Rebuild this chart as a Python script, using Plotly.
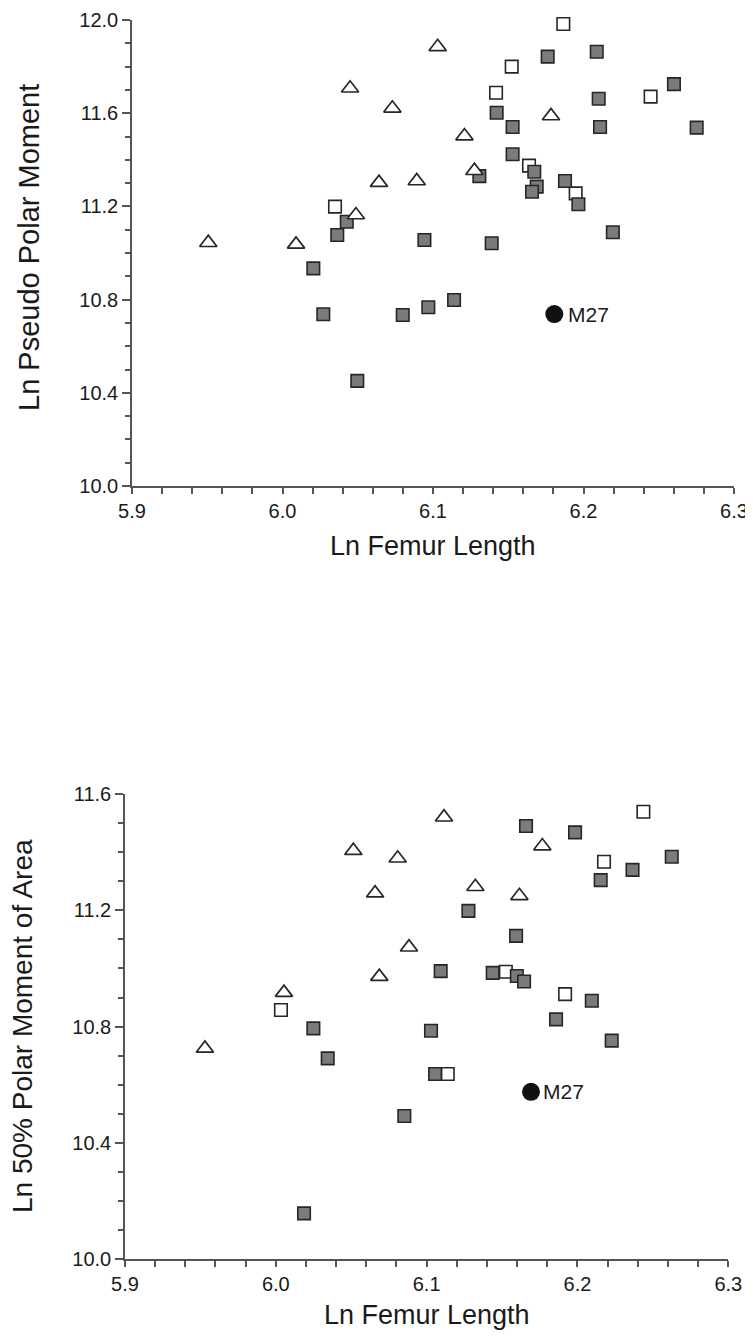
import plotly.graph_objects as go

# ---------------- Top panel: Ln Pseudo Polar Moment ----------------
top_open_x = [6.1866, 6.1523, 6.1419, 6.2446, 6.1638, 6.1948, 6.0349]
top_open_y = [11.983, 11.800, 11.688, 11.671, 11.375, 11.256, 11.199]

top_fill_x = [6.1762, 6.2088, 6.2601, 6.2101, 6.1423, 6.1529, 6.2110, 6.2752, 6.1529,
              6.1673, 6.1308, 6.1877, 6.1689, 6.1658, 6.1966, 6.0943, 6.1390, 6.2195,
              6.0427, 6.0364, 6.0205, 6.0271, 6.0497, 6.0799, 6.0969, 6.1140]
top_fill_y = [11.843, 11.864, 11.725, 11.662, 11.602, 11.541, 11.541, 11.538, 11.424,
              11.349, 11.330, 11.309, 11.285, 11.263, 11.209, 11.056, 11.042, 11.089,
              11.134, 11.077, 10.934, 10.737, 10.451, 10.734, 10.767, 10.798]

top_tri_x = [6.1031, 6.0449, 6.0730, 6.1784, 6.1209, 6.1275, 6.0641, 6.0892, 6.0488, 5.9507, 6.0090]
top_tri_y = [11.885, 11.707, 11.621, 11.588, 11.502, 11.353, 11.302, 11.309, 11.163, 11.044, 11.037]

top_m27_x = [6.1806]
top_m27_y = [10.738]

# ---------------- Bottom panel: Ln 50% Polar Moment of Area ----------------
bot_open_x = [6.0034, 6.2437, 6.2176, 6.1525, 6.1918, 6.1140]
bot_open_y = [10.857, 11.539, 11.367, 10.989, 10.912, 10.637]

bot_fill_x = [6.0249, 6.0344, 6.0187, 6.1659, 6.1984, 6.2625, 6.2365, 6.2154, 6.1277, 6.1593,
              6.1093, 6.1438, 6.1598, 6.1646, 6.2095, 6.1858, 6.1029, 6.2227, 6.1056, 6.0852]
bot_fill_y = [10.794, 10.691, 10.158, 11.490, 11.468, 11.384, 11.339, 11.304, 11.198, 11.112,
              10.991, 10.985, 10.974, 10.955, 10.889, 10.825, 10.786, 10.752, 10.637, 10.493]

bot_tri_x = [6.0514, 6.0658, 6.0686, 6.0054, 5.9530, 6.1115, 6.1767, 6.0808, 6.1323, 6.1615, 6.0883]
bot_tri_y = [11.405, 11.259, 10.972, 10.917, 10.725, 11.520, 11.421, 11.379, 11.281, 11.250, 11.073]

bot_m27_x = [6.1692]
bot_m27_y = [10.576]

x_title = "Ln Femur Length"
top_y_title = "Ln Pseudo Polar Moment"
bot_y_title = "Ln 50% Polar Moment of Area"
m27_label = "M27"

FONT = "Liberation Sans, Arial, Helvetica, sans-serif"
EDGE = "#262626"
GREY = "#7b7b7b"
AXC = "#555555"

fig = go.Figure()


def add_panel(xa, ya, ox, oy, fx, fy, tx, ty, mx, my):
    fig.add_trace(go.Scatter(x=ox, y=oy, mode="markers", xaxis=xa, yaxis=ya, cliponaxis=False,
                             marker=dict(symbol="square", size=12.5, color="white",
                                         line=dict(color=EDGE, width=1.6)),
                             showlegend=False, hoverinfo="x+y"))
    fig.add_trace(go.Scatter(x=fx, y=fy, mode="markers", xaxis=xa, yaxis=ya, cliponaxis=False,
                             marker=dict(symbol="square", size=12.5, color=GREY,
                                         line=dict(color=EDGE, width=1.6)),
                             showlegend=False, hoverinfo="x+y"))
    fig.add_trace(go.Scatter(x=tx, y=ty, mode="markers", xaxis=xa, yaxis=ya, cliponaxis=False,
                             marker=dict(symbol="triangle-up", size=15, color="white",
                                         line=dict(color=EDGE, width=1.7)),
                             showlegend=False, hoverinfo="x+y"))
    fig.add_trace(go.Scatter(x=mx, y=my, mode="markers", xaxis=xa, yaxis=ya, cliponaxis=False,
                             marker=dict(symbol="circle", size=18, color="#111111",
                                         line=dict(width=0)),
                             showlegend=False, hoverinfo="x+y"))


add_panel("x", "y", top_open_x, top_open_y, top_fill_x, top_fill_y,
          top_tri_x, top_tri_y, top_m27_x, top_m27_y)
add_panel("x2", "y2", bot_open_x, bot_open_y, bot_fill_x, bot_fill_y,
          bot_tri_x, bot_tri_y, bot_m27_x, bot_m27_y)

# The page body has an 8px margin, so the figure is drawn at (8, 8) on the page.
OFF = 8
W, H = 753 - OFF, 1337 - OFF


def px(v):
    return (v - OFF) / W


def py(v):
    return 1 - (v - OFF) / H


xcommon = dict(range=[5.9, 6.3], dtick=0.1, tick0=5.9, tickformat=".1f",
               ticks="outside", ticklen=6, tickwidth=1.5, tickcolor=AXC,
               showline=True, linecolor=AXC, linewidth=1.5,
               showgrid=False, zeroline=False, automargin=False,
               tickfont=dict(family=FONT, size=20, color="#1a1a1a"),
               minor=dict(dtick=0.02, tick0=5.9, ticks="outside", ticklen=6,
                          tickwidth=1.5, tickcolor=AXC, showgrid=False))
ycommon = dict(ticks="outside", ticklen=8, tickwidth=1.5, tickcolor=AXC,
               showline=True, linecolor=AXC, linewidth=1.5, tickformat=".1f",
               showgrid=False, zeroline=False, automargin=False,
               tickfont=dict(family=FONT, size=20, color="#1a1a1a"),
               minor=dict(dtick=0.1, ticks="outside", ticklen=5,
                          tickwidth=1.5, tickcolor=AXC, showgrid=False))

fig.update_layout(
    width=W, height=H,
    margin=dict(l=0, r=0, t=0, b=0),
    paper_bgcolor="white", plot_bgcolor="white",
    template="none",
    showlegend=False,
    xaxis=dict(domain=[px(132), px(734)], anchor="y", **xcommon),
    yaxis=dict(domain=[py(486), py(20)], anchor="x",
               range=[10.0, 12.0], dtick=0.4, tick0=10.0, **ycommon),
    xaxis2=dict(domain=[px(125), px(728.3)], anchor="y2", **xcommon),
    yaxis2=dict(domain=[py(1259.3), py(794)], anchor="x2",
                range=[10.0, 11.6], dtick=0.4, tick0=10.0, **ycommon),
)

ann = []
title_font = dict(family=FONT, size=27, color="#1a1a1a")
ann.append(dict(text=top_y_title, xref="paper", yref="paper", x=px(29), y=py(248),
                textangle=-90, showarrow=False, xanchor="center", yanchor="middle",
                font=dict(family=FONT, size=29, color="#1a1a1a")))
ann.append(dict(text=x_title, xref="paper", yref="paper", x=px(433), y=py(546),
                showarrow=False, xanchor="center", yanchor="middle", font=title_font))
ann.append(dict(text=bot_y_title, xref="paper", yref="paper", x=px(22), y=py(1026),
                textangle=-90, showarrow=False, xanchor="center", yanchor="middle",
                font=dict(family=FONT, size=28, color="#1a1a1a")))
ann.append(dict(text=x_title, xref="paper", yref="paper", x=px(426.5), y=py(1315),
                showarrow=False, xanchor="center", yanchor="middle", font=title_font))
ann.append(dict(text=m27_label, xref="x", yref="y", x=top_m27_x[0], y=top_m27_y[0],
                showarrow=False, xanchor="left", yanchor="middle", xshift=12,
                font=dict(family=FONT, size=21, color="#1a1a1a")))
ann.append(dict(text=m27_label, xref="x2", yref="y2", x=bot_m27_x[0], y=bot_m27_y[0],
                showarrow=False, xanchor="left", yanchor="middle", xshift=10,
                font=dict(family=FONT, size=21, color="#1a1a1a")))
fig.update_layout(annotations=ann)

fig.write_html("out.html")
